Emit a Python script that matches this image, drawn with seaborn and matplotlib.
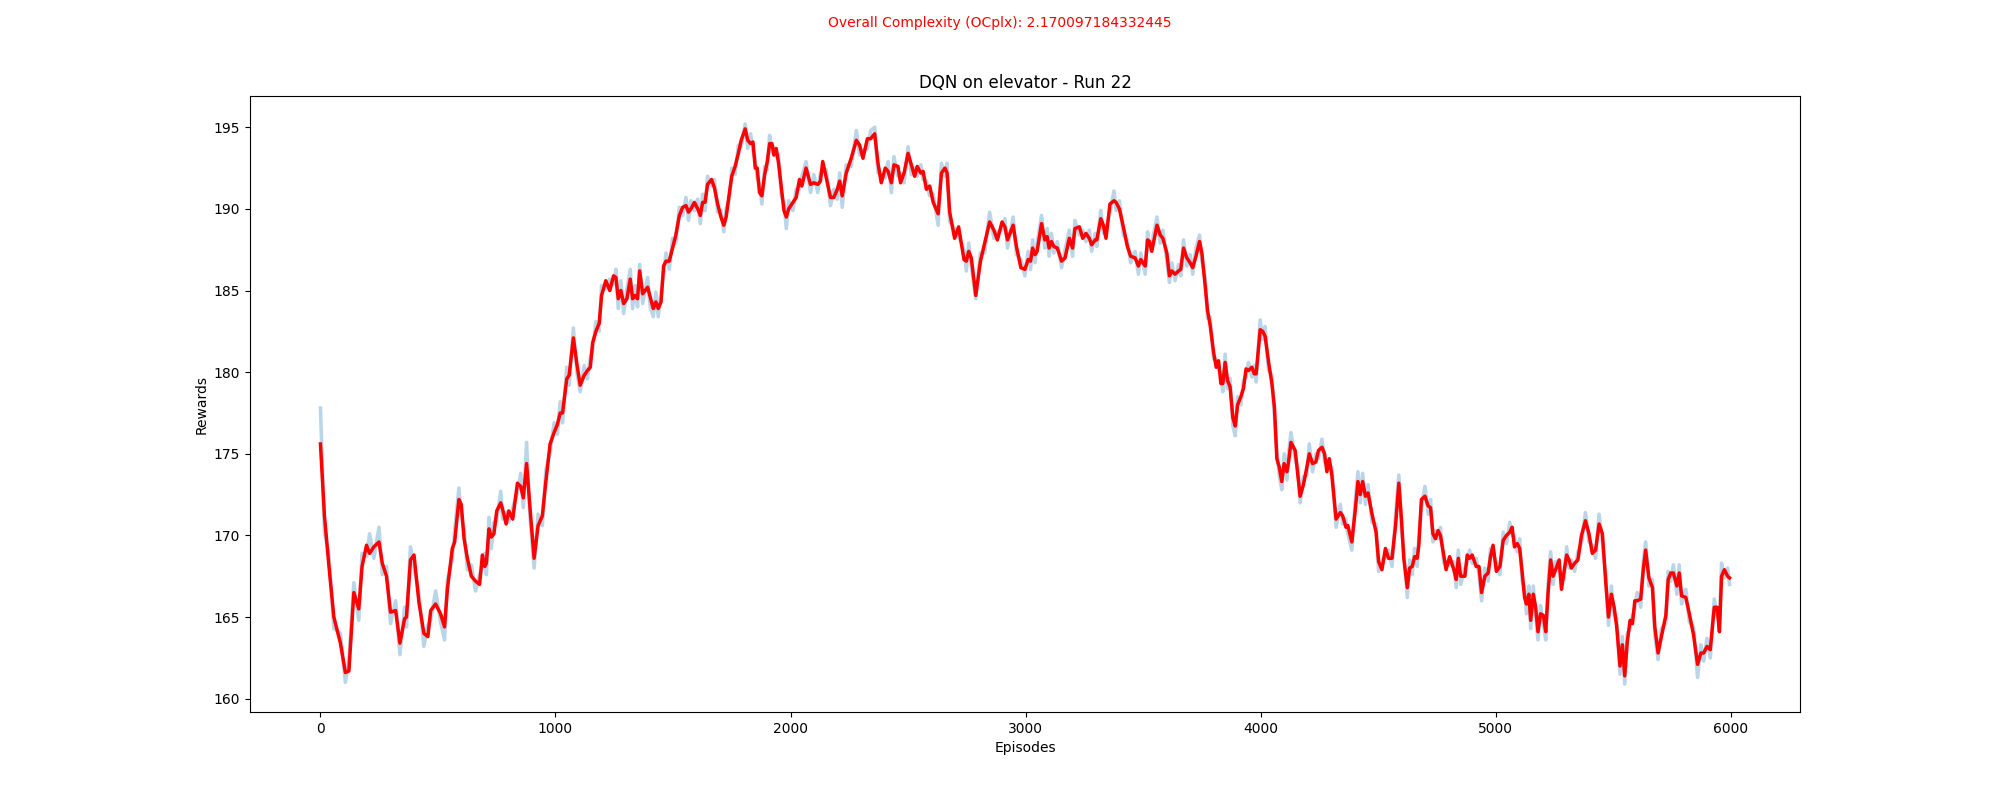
import matplotlib
matplotlib.use("Agg")
import matplotlib.pyplot as plt
import seaborn as sns

episodes = [
    0, 17, 35, 57, 85, 106, 121, 142, 163, 177, 196, 209, 227, 249, 263, 281, 298, 320, 338, 358,
    366, 383, 398, 419, 440, 457, 469, 490, 511, 528, 540, 561, 571, 589, 599, 611, 625, 642, 660, 677,
    689, 699, 706, 717, 727, 738, 750, 767, 775, 790, 801, 818, 838, 852, 863, 877, 892, 909, 926, 944,
    959, 977, 994, 1008, 1020,
    1030, 1048, 1058, 1076, 1091, 1105, 1122, 1136, 1148, 1158, 1172, 1186, 1196, 1214, 1231, 1247, 1257, 1267, 1278, 1290,
    1304, 1318, 1328, 1339, 1349, 1358, 1371, 1392, 1403, 1416, 1427, 1437, 1449, 1460, 1470, 1484, 1498, 1512, 1527, 1541,
    1555, 1566, 1576, 1591, 1605, 1616, 1626, 1636, 1647, 1664, 1676, 1690, 1704, 1716, 1726, 1740, 1750, 1764, 1778, 1790,
    1807, 1818, 1830, 1840, 1850, 1858, 1868, 1878, 1890, 1901, 1911, 1921, 1929, 1939, 1949, 1961, 1972, 1982, 1992,
    2010, 2024, 2038, 2048, 2066, 2085, 2099, 2116, 2127, 2137, 2152, 2170, 2184, 2199, 2209, 2220, 2237, 2258, 2280, 2294,
    2308, 2327, 2341, 2358, 2372, 2386, 2403, 2415, 2429, 2440, 2457, 2468, 2483, 2500, 2514, 2528, 2539, 2554, 2564, 2578,
    2592, 2607, 2628, 2642, 2657, 2666, 2677, 2698, 2715, 2738, 2748, 2758, 2769, 2788, 2808, 2826, 2847, 2865, 2880, 2900,
    2912, 2923, 2947, 2961, 2980, 2997,
    3011, 3021, 3030, 3040, 3049, 3068, 3082, 3092, 3100, 3110, 3120, 3135, 3153, 3168, 3186, 3200, 3210, 3229, 3243, 3257,
    3271, 3281, 3296, 3303, 3320, 3331, 3342, 3359, 3376, 3385, 3399, 3416, 3433, 3447, 3466, 3480, 3490, 3509, 3519, 3527,
    3537, 3559, 3573, 3584, 3601, 3612, 3622, 3636, 3651, 3660, 3672, 3686, 3700, 3711, 3725, 3740, 3750, 3764, 3774, 3785,
    3800, 3811, 3821, 3831, 3839, 3849, 3859, 3870, 3882, 3892, 3902, 3916, 3927, 3938, 3948, 3963, 3973, 3981, 3998,
    4009, 4019, 4034, 4048, 4059, 4069, 4079, 4090, 4100, 4112, 4118, 4129, 4147, 4158, 4168, 4182, 4197, 4207, 4221, 4235,
    4246, 4261, 4272, 4282, 4292, 4303, 4321, 4339, 4349, 4363, 4371, 4388, 4403, 4414, 4424, 4434, 4446, 4457, 4474, 4491,
    4502, 4516, 4531, 4544, 4559, 4574, 4588, 4600, 4609, 4624, 4634, 4645, 4655, 4666, 4673, 4684, 4699, 4713, 4723, 4733,
    4744, 4755, 4765, 4779, 4789, 4804, 4822, 4832, 4841, 4851, 4869, 4879, 4889, 4900, 4917, 4929, 4940, 4954, 4968, 4978,
    4989,
    5003, 5018, 5032, 5046, 5060, 5070, 5080, 5092, 5102, 5113, 5123, 5131, 5141, 5149, 5160, 5170, 5180, 5191, 5203, 5213,
    5223, 5234, 5244, 5255, 5270, 5280, 5291, 5302, 5312, 5322, 5336, 5350, 5365, 5382, 5397, 5411, 5425, 5440, 5454, 5468,
    5480, 5492, 5504, 5515, 5529, 5539, 5549, 5560, 5572, 5582, 5592, 5602, 5617, 5628, 5638, 5652, 5667, 5677, 5691, 5705,
    5724, 5734, 5745, 5756, 5771, 5781, 5791, 5809, 5824, 5842, 5859, 5873, 5885, 5899, 5913, 5930, 5942, 5952, 5961, 5973,
    5987, 5995,
]

# raw episode rewards (light blue line)
rewards_raw = [
    177.8, 170.2, 168.9, 164.3, 164.0, 161.0, 162.3, 167.1, 164.8, 168.9, 168.7, 170.1, 168.6, 170.5, 167.6, 168.1, 164.6, 166.0, 162.7, 165.6,
    164.4, 169.3, 168.0, 166.5, 163.2, 164.5, 164.8, 166.6, 164.7, 163.6, 167.3, 168.5, 170.3, 172.9, 171.2, 170.4, 167.9, 168.2, 166.6, 167.6,
    168.0, 168.9, 167.6, 171.1, 169.2, 170.8, 170.9, 172.7, 171.0, 171.4, 170.8, 171.7, 172.6, 173.8, 171.7, 175.7, 171.0, 168.0, 171.3, 170.6,
    174.0, 175.1, 176.9, 176.2, 178.2,
    176.9, 180.3, 179.2, 182.7, 180.0, 178.8, 180.4, 179.6, 180.9, 181.3, 183.1, 182.5, 185.3, 185.1, 185.7, 185.4, 186.3, 183.9, 185.6, 183.6,
    185.1, 186.3, 183.9, 185.3, 184.0, 186.6, 184.2, 185.8, 184.0, 183.4, 184.9, 183.4, 184.8, 186.0, 187.3, 186.3, 188.2, 187.9, 190.1, 189.6,
    190.7, 189.3, 190.5, 189.9, 190.6, 189.1, 190.9, 189.9, 192.0, 191.4, 191.8, 189.8, 189.9, 188.6, 190.0, 190.6, 192.5, 192.1, 193.9, 193.8,
    195.2, 193.7, 194.6, 193.6, 193.0, 191.9, 191.5, 190.3, 192.6, 192.4, 194.5, 193.5, 193.8, 193.2, 193.3, 190.8, 190.4, 188.8, 190.5,
    189.9, 191.2, 191.2, 192.0, 192.9, 191.0, 192.1, 191.0, 192.2, 192.4, 192.4, 190.2, 191.2, 190.6, 192.2, 190.1, 192.7, 192.6, 194.8, 193.3,
    193.6, 193.7, 194.8, 195.0, 192.2, 192.1, 191.9, 192.9, 191.0, 193.2, 192.0, 192.2, 191.6, 193.8, 192.1, 192.5, 192.0, 192.7, 191.8, 191.7,
    190.8, 190.9, 189.0, 192.8, 192.0, 192.8, 189.2, 188.8, 188.3, 187.5, 186.2, 187.9, 186.5, 184.5, 187.3, 187.3, 189.8, 188.2, 188.6, 188.7,
    189.4, 187.6, 189.5, 187.2, 186.9, 185.9,
    187.4, 186.3, 188.1, 186.7, 187.9, 189.6, 187.6, 188.8, 187.1, 188.5, 187.3, 188.0, 186.4, 187.5, 188.7, 187.1, 189.3, 188.4, 188.7, 188.0,
    188.7, 187.4, 188.5, 187.7, 189.9, 188.5, 188.7, 189.8, 191.1, 189.9, 190.5, 188.4, 188.1, 186.7, 187.4, 186.0, 187.3, 186.0, 188.6, 187.5,
    187.9, 189.5, 187.9, 188.7, 186.8, 185.5, 186.7, 185.6, 186.6, 185.9, 188.1, 186.5, 187.2, 186.0, 187.6, 188.4, 186.8, 185.8, 183.3, 183.4,
    180.8, 180.8, 180.2, 179.8, 178.8, 181.1, 179.0, 179.6, 176.7, 176.1, 178.5, 178.0, 179.5, 179.7, 180.6, 179.7, 180.4, 179.4, 183.2,
    182.0, 182.8, 180.1, 179.8, 177.2, 175.2, 173.7, 172.8, 175.0, 173.4, 174.9, 176.3, 174.7, 174.2, 172.0, 173.6, 173.7, 175.6, 173.9, 175.0,
    174.7, 175.9, 174.5, 174.4, 174.2, 174.2, 170.5, 171.9, 170.7, 171.0, 170.1, 169.1, 172.2, 173.9, 172.0, 173.8, 171.9, 173.1, 170.8, 170.7,
    167.8, 168.4, 168.7, 169.1, 168.1, 171.2, 173.7, 170.3, 169.1, 166.2, 168.5, 167.6, 169.2, 168.1, 169.9, 171.7, 173.0, 171.3, 172.2, 169.6,
    170.3, 169.8, 170.5, 168.3, 168.4, 168.2, 168.4, 166.8, 169.1, 167.0, 168.0, 168.3, 169.1, 168.3, 168.6, 167.6, 166.0, 168.0, 167.2, 169.2,
    168.9,
    168.3, 167.6, 170.2, 169.5, 170.8, 170.0, 169.9, 169.0, 169.8, 167.2, 166.7, 165.2, 166.9, 164.3, 166.9, 165.1, 163.6, 165.7, 164.6, 163.6,
    167.0, 169.0, 167.0, 168.4, 168.0, 167.2, 167.3, 169.3, 168.0, 168.5, 167.8, 169.0, 169.5, 171.4, 169.6, 169.4, 168.6, 171.3, 169.6, 167.7,
    164.5, 166.9, 165.1, 164.9, 161.5, 163.8, 160.9, 164.0, 164.3, 165.1, 165.5, 166.5, 165.6, 168.4, 169.6, 166.9, 167.3, 163.9, 162.4, 164.3,
    164.6, 167.8, 167.2, 168.2, 166.4, 168.2, 165.8, 166.7, 164.7, 164.4, 161.3, 163.3, 162.3, 163.7, 162.5, 166.1, 165.1, 164.6, 168.3, 167.4,
    168.0, 167.0,
]

# smoothed rewards (red line)
rewards_smooth = [
    175.6, 171.2, 168.3, 165.0, 163.4, 161.6, 161.7, 166.5, 165.5, 168.1, 169.4, 168.9, 169.3, 169.6, 168.3, 167.5, 165.3, 165.4, 163.4, 164.9,
    165.0, 168.5, 168.8, 165.9, 164.0, 163.8, 165.4, 165.8, 165.2, 164.4, 166.7, 169.2, 169.6, 172.2, 171.9, 169.8, 168.6, 167.5, 167.2, 167.0,
    168.8, 168.1, 168.3, 170.4, 169.9, 170.1, 171.5, 172.0, 171.6, 170.7, 171.5, 171.0, 173.2, 173.0, 172.3, 174.4, 171.6, 168.6, 170.6, 171.2,
    173.3, 175.6, 176.3, 176.8, 177.5,
    177.5, 179.6, 179.8, 182.1, 180.5, 179.2, 179.8, 180.1, 180.3, 181.8, 182.5, 183.0, 184.7, 185.6, 185.0, 185.9, 185.8, 184.5, 185.0, 184.2,
    184.5, 185.7, 184.5, 184.7, 184.5, 186.2, 184.8, 185.2, 184.6, 183.9, 184.3, 183.9, 184.3, 186.5, 186.8, 186.8, 187.6, 188.4, 189.6, 190.1,
    190.2, 189.8, 190.0, 190.4, 190.0, 189.6, 190.4, 190.4, 191.5, 191.8, 191.3, 190.3, 189.5, 189.0, 189.5, 191.0, 192.0, 192.6, 193.4, 194.2,
    194.9, 194.2, 194.0, 194.1, 192.5, 192.5, 191.0, 190.8, 192.1, 192.9, 194.0, 194.0, 193.3, 193.7, 192.8, 191.3, 189.9, 189.5, 190.0,
    190.4, 190.7, 191.8, 191.4, 192.5, 191.5, 191.6, 191.5, 191.7, 192.9, 191.9, 190.7, 190.7, 191.2, 191.7, 190.8, 192.2, 193.1, 194.2, 193.9,
    193.1, 194.3, 194.3, 194.6, 192.8, 191.6, 192.5, 192.3, 191.6, 192.7, 192.6, 191.6, 192.2, 193.4, 192.7, 192.0, 192.6, 192.2, 192.3, 191.2,
    191.4, 190.4, 189.7, 192.2, 192.5, 192.2, 189.8, 188.2, 188.9, 186.9, 186.8, 187.4, 187.0, 184.7, 186.8, 187.9, 189.2, 188.7, 188.1, 189.2,
    188.9, 188.1, 189.0, 187.7, 186.4, 186.3,
    186.9, 186.8, 187.6, 187.2, 187.4, 189.1, 188.1, 188.3, 187.6, 188.0, 187.7, 187.6, 186.8, 187.0, 188.2, 187.6, 188.8, 188.9, 188.2, 188.5,
    188.2, 187.8, 188.1, 188.1, 189.4, 189.0, 188.2, 190.3, 190.5, 190.4, 190.0, 188.9, 187.7, 187.1, 187.0, 186.5, 186.9, 186.5, 188.1, 188.0,
    187.4, 189.0, 188.4, 188.2, 187.3, 185.9, 186.2, 186.0, 186.2, 186.3, 187.6, 187.0, 186.7, 186.4, 187.1, 188.0, 187.3, 185.3, 183.8, 182.9,
    181.2, 180.3, 180.7, 179.3, 179.3, 180.6, 179.5, 179.1, 177.2, 176.7, 178.0, 178.5, 179.0, 180.2, 180.1, 180.3, 179.9, 179.9, 182.6,
    182.5, 182.2, 180.6, 179.3, 177.8, 174.7, 174.2, 173.3, 174.4, 173.9, 174.4, 175.7, 175.2, 173.7, 172.4, 173.1, 174.2, 175.0, 174.4, 174.5,
    175.2, 175.4, 175.0, 173.9, 174.7, 173.7, 171.0, 171.4, 171.2, 170.5, 170.6, 169.6, 171.6, 173.3, 172.5, 173.3, 172.4, 172.6, 171.3, 170.2,
    168.4, 167.9, 169.2, 168.6, 168.6, 170.6, 173.2, 170.8, 168.6, 166.8, 168.0, 168.1, 168.7, 168.6, 169.4, 172.2, 172.4, 171.8, 171.7, 170.1,
    169.8, 170.3, 170.0, 168.8, 167.9, 168.7, 167.9, 167.3, 168.6, 167.5, 167.5, 168.8, 168.6, 168.8, 168.1, 168.1, 166.5, 167.5, 167.7, 168.7,
    169.4,
    167.8, 168.1, 169.7, 170.0, 170.2, 170.5, 169.3, 169.5, 169.2, 167.7, 166.2, 165.8, 166.4, 164.8, 166.4, 165.6, 164.1, 165.2, 165.1, 164.1,
    166.5, 168.5, 167.5, 167.9, 168.5, 166.7, 167.8, 168.8, 168.5, 168.0, 168.3, 168.5, 170.0, 170.9, 170.1, 168.9, 169.1, 170.7, 170.1, 167.2,
    165.0, 166.4, 165.6, 164.4, 162.0, 163.3, 161.4, 163.5, 164.8, 164.6, 166.0, 166.0, 166.1, 167.9, 169.1, 167.4, 166.8, 164.4, 162.8, 163.8,
    165.1, 167.3, 167.7, 167.7, 166.9, 167.7, 166.3, 166.2, 165.2, 163.9, 162.1, 162.8, 162.8, 163.2, 163.0, 165.6, 165.6, 164.1, 167.5, 167.9,
    167.5, 167.4,
]

fig, ax = plt.subplots(figsize=(20, 8), dpi=100)

sns.lineplot(x=episodes, y=rewards_raw, ax=ax, color="tab:blue", alpha=0.3,
             linewidth=2.6, estimator=None, sort=False)
sns.lineplot(x=episodes, y=rewards_smooth, ax=ax, color="red",
             linewidth=2.5, estimator=None, sort=False)

ax.set_title("DQN on elevator - Run 22")
ax.set_xlabel("Episodes")
ax.set_ylabel("Rewards")
fig.suptitle("Overall Complexity (OCplx): 2.170097184332445", color="red", fontsize=10)

fig.savefig("out.png", dpi=100)
